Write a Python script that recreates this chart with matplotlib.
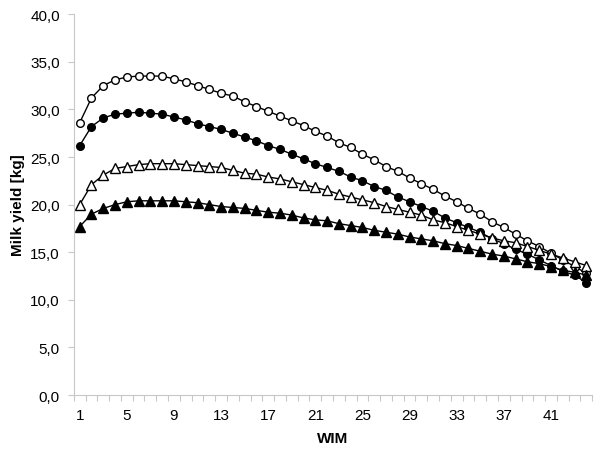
import matplotlib
matplotlib.use("Agg")
import matplotlib.pyplot as plt
from matplotlib.ticker import FuncFormatter, MultipleLocator

plt.rcParams['font.family'] = ['Liberation Sans', 'DejaVu Sans']

wim = list(range(1, 45))

open_circles = [28.6, 31.2, 32.5, 33.1, 33.4, 33.5, 33.5, 33.5, 33.2, 32.9,
                32.5, 32.1, 31.7, 31.4, 30.8, 30.3, 29.8, 29.3, 28.8, 28.3,
                27.7, 27.2, 26.5, 26.0, 25.3, 24.7, 24.0, 23.5, 22.8, 22.2,
                21.6, 20.9, 20.3, 19.6, 19.0, 18.2, 17.6, 16.9, 16.2, 15.6,
                14.9, 14.2, 13.5, 12.8]
filled_circles = [26.2, 28.2, 29.1, 29.5, 29.6, 29.7, 29.6, 29.5, 29.2, 28.9,
                  28.5, 28.2, 27.9, 27.5, 27.1, 26.7, 26.2, 25.8, 25.3, 24.8,
                  24.3, 23.9, 23.5, 22.9, 22.5, 21.9, 21.5, 20.8, 20.3, 19.8,
                  19.3, 18.6, 18.1, 17.6, 17.1, 16.4, 15.9, 15.3, 14.8, 14.2,
                  13.6, 13.0, 12.6, 11.8]
open_triangles = [20.0, 22.1, 23.1, 23.8, 24.0, 24.2, 24.3, 24.3, 24.3, 24.2,
                  24.1, 24.0, 23.9, 23.6, 23.3, 23.2, 22.9, 22.7, 22.4, 22.1,
                  21.8, 21.5, 21.1, 20.8, 20.5, 20.2, 19.8, 19.5, 19.2, 18.9,
                  18.4, 18.1, 17.7, 17.3, 16.9, 16.5, 16.2, 16.0, 15.6, 15.2,
                  14.8, 14.4, 14.0, 13.6]
filled_triangles = [17.7, 19.0, 19.6, 20.0, 20.3, 20.4, 20.4, 20.4, 20.4, 20.3,
                    20.2, 20.0, 19.8, 19.7, 19.6, 19.4, 19.2, 19.1, 18.9, 18.6,
                    18.4, 18.3, 18.0, 17.8, 17.6, 17.3, 17.1, 16.9, 16.6, 16.4,
                    16.2, 15.9, 15.7, 15.4, 15.1, 14.8, 14.6, 14.3, 14.0, 13.8,
                    13.5, 13.1, 12.9, 12.6]

fig = plt.figure(figsize=(6, 4.6), dpi=100)
ax = fig.add_axes([0.123, 0.139, 0.864, 0.828])

line_kw = dict(color='black', linewidth=1.0, markeredgecolor='black',
               markeredgewidth=1.0)
ax.plot(wim, open_circles, marker='o', markersize=5.5, markerfacecolor='white', **line_kw)
ax.plot(wim, filled_circles, marker='o', markersize=5.5, markerfacecolor='black', **line_kw)
ax.plot(wim, open_triangles, marker='^', markersize=7, markerfacecolor='white', **line_kw)
ax.plot(wim, filled_triangles, marker='^', markersize=7, markerfacecolor='black', **line_kw)

ax.set_xlim(0.5, 44.5)
ax.set_ylim(0, 40)

ax.yaxis.set_major_locator(MultipleLocator(5))
ax.yaxis.set_major_formatter(FuncFormatter(lambda v, p: f"{v:.1f}".replace('.', ',')))

ax.set_xticks(list(range(1, 45, 4)))
ax.set_xticks([i + 0.5 for i in range(0, 45)], minor=True)
ax.tick_params(axis='x', which='major', length=0, pad=9, labelsize=11)
ax.tick_params(axis='x', which='minor', length=4, color='#c8c8c8', width=0.8)
ax.tick_params(axis='y', which='major', length=4, color='#c8c8c8', width=0.8,
               labelsize=11, pad=6)

for side in ('top', 'right'):
    ax.spines[side].set_visible(False)
for side in ('left', 'bottom'):
    ax.spines[side].set_color('#c8c8c8')
    ax.spines[side].set_linewidth(0.8)

ax.set_xlabel('WIM', fontsize=11, fontweight='bold', labelpad=7)
ax.set_ylabel('Milk yield [kg]', fontsize=11, fontweight='bold', labelpad=4)

fig.savefig('out.png', dpi=100)
